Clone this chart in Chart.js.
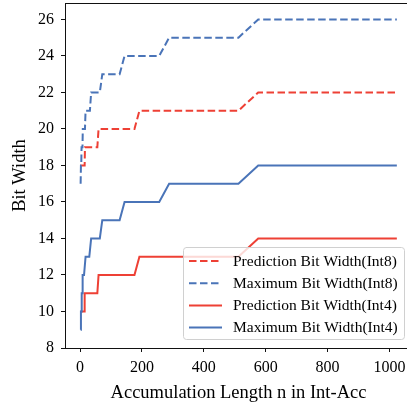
<!DOCTYPE html>
<html><head><meta charset="utf-8">
<script src="https://cdn.jsdelivr.net/npm/chart.js@4"></script>
<style>
html,body{margin:0;padding:0;overflow:hidden;background:#fff;width:407px;height:402px}
#c{position:absolute;left:0;top:0}
</style></head>
<body>
<canvas id="c" width="414" height="402" style="width:414px;height:402px"></canvas>
<script>
// Accumulation lengths n (x samples)
const nValues = [2,3,4,5,6,7,8,9,10,11,12,13,14,15,16,
  18,20,22,24,26,28,30,32,
  36,40,44,48,52,56,60,64,
  72,80,88,96,104,112,120,128,
  144,160,176,192,208,224,240,256,
  288,320,352,384,416,448,480,512,
  576,640,704,768,832,896,960,1024];

const predInt8 = [18,18,18,18,18,18,18,18,18,18,18,18,18,18,19,
  19,19,19,19,19,19,19,19,
  19,19,19,19,19,19,20,20,
  20,20,20,20,20,20,20,20,
  20,20,20,21,21,21,21,21,
  21,21,21,21,21,21,21,21,
  22,22,22,22,22,22,22,22];

const maxInt8 = [17,18,18,19,19,19,19,20,20,20,20,20,20,20,20,
  21,21,21,21,21,21,21,21,
  22,22,22,22,22,22,22,22,
  23,23,23,23,23,23,23,23,
  24,24,24,24,24,24,24,24,
  25,25,25,25,25,25,25,25,
  26,26,26,26,26,26,26,26];

const predInt4 = [10,10,10,10,10,10,10,10,10,10,10,10,10,10,11,
  11,11,11,11,11,11,11,11,
  11,11,11,11,11,11,12,12,
  12,12,12,12,12,12,12,12,
  12,12,12,13,13,13,13,13,
  13,13,13,13,13,13,13,13,
  14,14,14,14,14,14,14,14];

const maxInt4 = [9,10,10,11,11,11,11,12,12,12,12,12,12,12,12,
  13,13,13,13,13,13,13,13,
  14,14,14,14,14,14,14,14,
  15,15,15,15,15,15,15,15,
  16,16,16,16,16,16,16,16,
  17,17,17,17,17,17,17,17,
  18,18,18,18,18,18,18,18];

const seriesNames = ['Prediction Bit Width(Int8)','Maximum Bit Width(Int8)','Prediction Bit Width(Int4)','Maximum Bit Width(Int4)'];
const xTicks = [0,200,400,600,800,1000];
const yTicks = [8,10,12,14,16,18,20,22,24,26];
const xTitle = 'Accumulation Length n in Int-Acc';
const yTitle = 'Bit Width';

const RED = '#EE4035';
const BLUE = '#4A74B8';
const FONT = "'Liberation Serif','Times New Roman',serif";
const DASH = [7.5, 3.5];

const pts = arr => nValues.map((n,i)=>({x:n,y:arr[i]}));
const styles = [
  {c:RED, d:DASH, data:predInt8},
  {c:BLUE, d:DASH, data:maxInt8},
  {c:RED, d:[], data:predInt4},
  {c:BLUE, d:[], data:maxInt4}
];

const framePlugin = {
  id:'frame',
  afterDatasetsDraw(chart){
    const {ctx, chartArea:a} = chart;
    ctx.save();
    ctx.strokeStyle = '#111';
    ctx.lineWidth = 1;
    ctx.beginPath();
    ctx.moveTo(a.left, Math.round(a.top)+0.5);
    ctx.lineTo(a.right, Math.round(a.top)+0.5);
    ctx.moveTo(Math.round(a.right)-0.5, a.top);
    ctx.lineTo(Math.round(a.right)-0.5, a.bottom);
    ctx.stroke();
    ctx.restore();
  }
};

const legendPlugin = {
  id:'boxLegend',
  afterDraw(chart){
    const {ctx, chartArea:a} = chart;
    const w = 221, h = 92;
    const x0 = Math.round(a.right - 8 - w), y0 = Math.round(a.bottom - 9 - h);
    ctx.save();
    const r = 3;
    ctx.beginPath();
    ctx.moveTo(x0+r, y0+0.5);
    ctx.arcTo(x0+w+0.5, y0+0.5, x0+w+0.5, y0+h, r);
    ctx.arcTo(x0+w+0.5, y0+h+0.5, x0, y0+h+0.5, r);
    ctx.arcTo(x0+0.5, y0+h+0.5, x0+0.5, y0, r);
    ctx.arcTo(x0+0.5, y0+0.5, x0+w, y0+0.5, r);
    ctx.closePath();
    ctx.fillStyle = 'rgba(255,255,255,0.8)';
    ctx.fill();
    ctx.strokeStyle = '#d0d0d0';
    ctx.lineWidth = 1;
    ctx.stroke();
    ctx.font = '15.5px ' + FONT;
    ctx.textBaseline = 'middle';
    ctx.fillStyle = '#000';
    styles.forEach((s,i)=>{
      const yy = y0 + 14 + i*22.2;
      ctx.beginPath();
      ctx.setLineDash(s.d);
      ctx.strokeStyle = s.c;
      ctx.lineWidth = 2;
      ctx.moveTo(x0+6, yy);
      ctx.lineTo(x0+39, yy);
      ctx.stroke();
      ctx.setLineDash([]);
      ctx.fillText(seriesNames[i], x0+50, yy+0.5);
    });
    ctx.restore();
  }
};

new Chart(document.getElementById('c'), {
  type:'line',
  data:{
    datasets: styles.map((s,i)=>({
      label: seriesNames[i],
      data: pts(s.data),
      borderColor: s.c,
      backgroundColor: s.c,
      borderDash: s.d,
      borderWidth: 2,
      pointRadius: 0,
      tension: 0,
      fill: false,
      order: 4 - i
    }))
  },
  options:{
    responsive:false,
    animation:false,
    devicePixelRatio:1,
    layout:{padding:{left:0, top:3, right:2, bottom:0}},
    plugins:{legend:{display:false}, tooltip:{enabled:false}},
    scales:{
      x:{
        type:'linear', min:-48.5, max:1073,
        afterBuildTicks: s => { s.ticks = xTicks.map(v=>({value:v})); },
        afterFit: s => { s.height = 54; s.paddingLeft = 0; s.paddingRight = 0; s.paddingTop = 0; s.paddingBottom = 0; },
        grid:{display:true, drawOnChartArea:false, drawTicks:true, tickLength:4, tickColor:'#111'},
        border:{display:true, color:'#111', width:1},
        ticks:{color:'#000', font:{family:FONT, size:16}, padding:6, maxRotation:0, autoSkip:false, callback: v => String(v)},
        title:{display:true, text:xTitle, color:'#000', font:{family:FONT, size:18.5}, padding:{top:0,bottom:-2}}
      },
      y:{
        type:'linear', min:8, max:26.9,
        afterBuildTicks: s => { s.ticks = yTicks.map(v=>({value:v})); },
        afterFit: s => { s.width = 65; s.paddingTop = 0; s.paddingBottom = 0; s.paddingLeft = 0; s.paddingRight = 0; },
        grid:{display:true, drawOnChartArea:false, drawTicks:true, tickLength:4, tickColor:'#111'},
        border:{display:true, color:'#111', width:1},
        ticks:{color:'#000', font:{family:FONT, size:16}, padding:7, autoSkip:false, callback: v => String(v)},
        title:{display:true, text:yTitle, color:'#000', font:{family:FONT, size:18.5}, padding:{top:9,bottom:0}}
      }
    }
  },
  plugins:[framePlugin, legendPlugin]
});
</script>
</body></html>
